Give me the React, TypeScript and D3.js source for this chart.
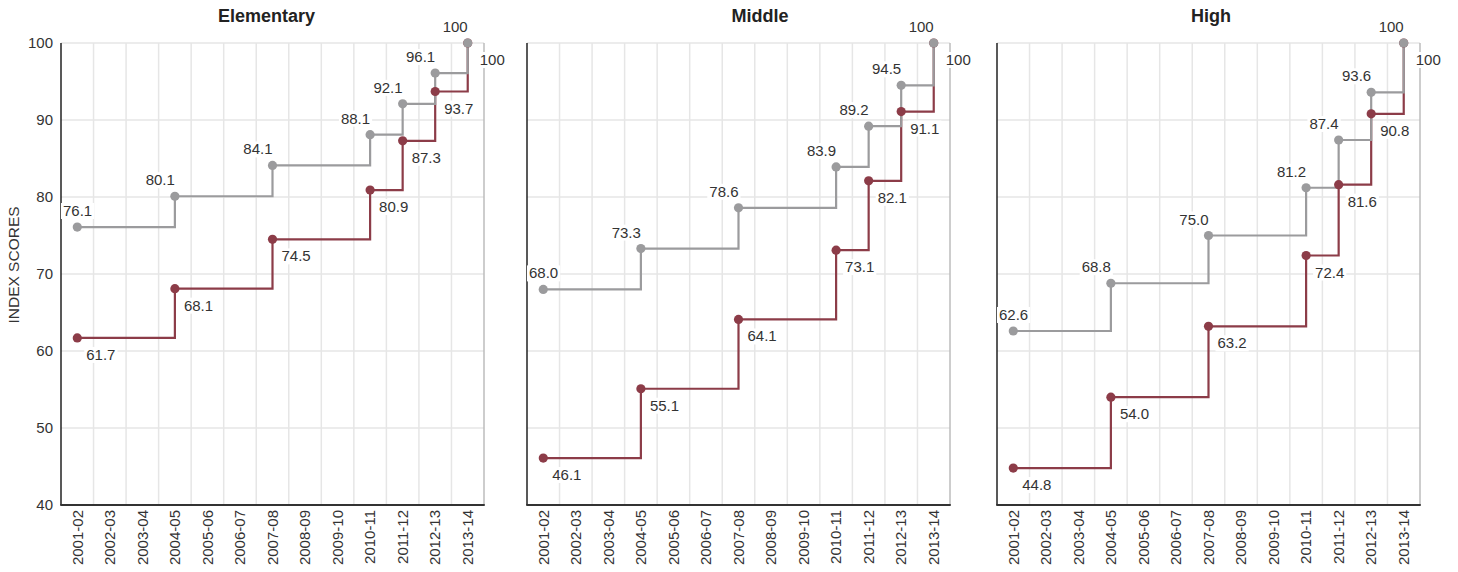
import React, { useEffect, useRef } from "react";
import * as d3 from "d3";

// school years on the x axis
const years = [
  "2001-02", "2002-03", "2003-04", "2004-05", "2005-06", "2006-07", "2007-08",
  "2008-09", "2009-10", "2010-11", "2011-12", "2012-13", "2013-14",
];
// years that have a value
const pointYears = ["2001-02", "2004-05", "2007-08", "2010-11", "2011-12", "2012-13", "2013-14"];

const panelTitles = ["Elementary", "Middle", "High"];

const elementaryGrey = [76.1, 80.1, 84.1, 88.1, 92.1, 96.1, 100];
const elementaryRed = [61.7, 68.1, 74.5, 80.9, 87.3, 93.7, 100];
const middleGrey = [68.0, 73.3, 78.6, 83.9, 89.2, 94.5, 100];
const middleRed = [46.1, 55.1, 64.1, 73.1, 82.1, 91.1, 100];
const highGrey = [62.6, 68.8, 75.0, 81.2, 87.4, 93.6, 100];
const highRed = [44.8, 54.0, 63.2, 72.4, 81.6, 90.8, 100];

const yTicks = [40, 50, 60, 70, 80, 90, 100];

const W = 1458;
const H = 572;
const panelLefts = [61, 527, 997];
const titleX = [266.5, 760, 1211];
const plotW = 423;
const top = 43;
const bottom = 505;

const GREY = "#9b9b9d";
const RED = "#8c3c48";
const FONT = "'Liberation Sans', Arial, Helvetica, sans-serif";

type Pt = { year: string; v: number };

export default function App() {
  const ref = useRef<SVGSVGElement>(null);

  useEffect(() => {
    const svg = d3.select(ref.current);
    svg.selectAll("*").remove();

    const y = d3.scaleLinear().domain([40, 100]).range([bottom, top]);
    const series = [
      [elementaryGrey, elementaryRed],
      [middleGrey, middleRed],
      [highGrey, highRed],
    ];

    // y axis title
    svg.append("text")
      .attr("transform", `translate(19,265) rotate(-90)`)
      .attr("text-anchor", "middle")
      .attr("font-size", 15.5)
      .attr("font-family", FONT)
      .attr("fill", "#333")
      .text("INDEX SCORES");

    panelLefts.forEach((left, p) => {
      const x = d3.scaleBand<string>().domain(years).range([left, left + plotW]);
      const cx = (d: string) => (x(d) as number) + x.bandwidth() / 2;
      const g = svg.append("g");

      // grid
      g.selectAll(".vgrid")
        .data(years.slice(1))
        .enter()
        .append("line")
        .attr("x1", (d) => x(d) as number)
        .attr("x2", (d) => x(d) as number)
        .attr("y1", top)
        .attr("y2", bottom)
        .attr("stroke", "#e6e6e6")
        .attr("stroke-width", 1.5);
      g.selectAll(".hgrid")
        .data(yTicks.slice(1))
        .enter()
        .append("line")
        .attr("x1", left)
        .attr("x2", left + plotW)
        .attr("y1", (d) => y(d))
        .attr("y2", (d) => y(d))
        .attr("stroke", "#e6e6e6")
        .attr("stroke-width", 1.5);
      // right border
      g.append("line")
        .attr("x1", left + plotW).attr("x2", left + plotW)
        .attr("y1", top).attr("y2", bottom)
        .attr("stroke", "#bdbdbd").attr("stroke-width", 1.5);
      // left + bottom axis
      g.append("line")
        .attr("x1", left).attr("x2", left)
        .attr("y1", top).attr("y2", bottom)
        .attr("stroke", "#222").attr("stroke-width", 1.5);
      g.append("line")
        .attr("x1", left - 0.75).attr("x2", left + plotW + 0.75)
        .attr("y1", bottom).attr("y2", bottom)
        .attr("stroke", "#333").attr("stroke-width", 1.8);

      if (p === 0) {
        g.selectAll(".ytick")
          .data(yTicks)
          .enter()
          .append("text")
          .attr("x", left - 8)
          .attr("y", (d) => y(d))
          .attr("dy", "0.35em")
          .attr("text-anchor", "end")
          .attr("font-size", 15)
          .attr("font-family", FONT)
          .attr("fill", "#333")
          .text((d) => d);
      }

      // x tick labels
      g.selectAll(".xtick")
        .data(years)
        .enter()
        .append("text")
        .attr("transform", (d) => `translate(${cx(d)},${bottom + 5}) rotate(-90)`)
        .attr("dy", "0.35em")
        .attr("text-anchor", "end")
        .attr("font-size", 15)
        .attr("font-family", FONT)
        .attr("fill", "#333")
        .text((d) => d);

      // title
      g.append("text")
        .attr("x", titleX[p])
        .attr("y", 22)
        .attr("text-anchor", "middle")
        .attr("font-size", 18)
        .attr("font-weight", "bold")
        .attr("font-family", FONT)
        .attr("fill", "#222")
        .text(panelTitles[p]);

      const [greyVals, redVals] = series[p];
      const greyPts: Pt[] = pointYears.map((yr, i) => ({ year: yr, v: greyVals[i] }));
      const redPts: Pt[] = pointYears.map((yr, i) => ({ year: yr, v: redVals[i] }));

      const line = d3.line<Pt>()
        .x((d) => cx(d.year))
        .y((d) => y(d.v))
        .curve(d3.curveStepAfter);

      g.append("path").attr("d", line(redPts)).attr("fill", "none")
        .attr("stroke", RED).attr("stroke-width", 2.2);
      g.append("path").attr("d", line(greyPts)).attr("fill", "none")
        .attr("stroke", GREY).attr("stroke-width", 2.2);

      g.selectAll(".rdot").data(redPts).enter().append("circle")
        .attr("cx", (d) => cx(d.year)).attr("cy", (d) => y(d.v))
        .attr("r", 4.6).attr("fill", RED);
      g.selectAll(".gdot").data(greyPts).enter().append("circle")
        .attr("cx", (d) => cx(d.year)).attr("cy", (d) => y(d.v))
        .attr("r", 4.6).attr("fill", GREY);

      const fmt = (v: number) => (v === 100 ? "100" : v.toFixed(1));

      const addLabel = (px: number, py: number, txt: string, anchor: "start" | "end") => {
        const lg = g.append("g");
        const rect = lg.append("rect").attr("fill", "#fff");
        const t = lg.append("text")
          .attr("x", px)
          .attr("y", py)
          .attr("text-anchor", anchor)
          .attr("font-size", 15)
          .attr("font-family", FONT)
          .attr("fill", "#333")
          .text(txt);
        const node = t.node() as SVGTextElement;
        let bb = node.getBBox();
        if (bb.x < left + 2) {
          t.attr("x", px + (left + 2 - bb.x));
          bb = node.getBBox();
        }
        rect.attr("x", bb.x - 2).attr("y", bb.y + 1)
          .attr("width", bb.width + 4).attr("height", bb.height - 1);
      };

      greyPts.forEach((d) => addLabel(cx(d.year), y(d.v) - 11, fmt(d.v), "end"));
      redPts.forEach((d, i) => {
        const last = i === redPts.length - 1;
        addLabel(cx(d.year) + (last ? 12 : 9), y(d.v) + 22, fmt(d.v), "start");
      });
    });
  }, []);

  return (
    <svg
      ref={ref}
      width={W}
      height={H}
      style={{ position: "absolute", left: 0, top: 0, background: "#fff" }}
    />
  );
}
